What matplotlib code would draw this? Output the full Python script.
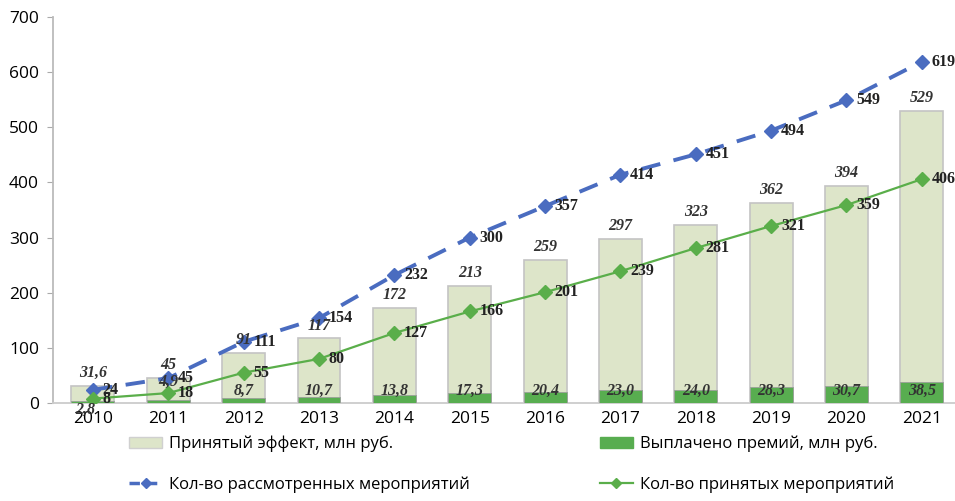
import numpy as np
import matplotlib.pyplot as plt
from matplotlib.lines import Line2D
from matplotlib.patches import Patch

years = [2010, 2011, 2012, 2013, 2014, 2015, 2016, 2017, 2018, 2019, 2020, 2021]
effect = [31.6, 45, 91, 117, 172, 213, 259, 297, 323, 362, 394, 529]
bonus = [2.8, 4.9, 8.7, 10.7, 13.8, 17.3, 20.4, 23.0, 24.0, 28.3, 30.7, 38.5]
reviewed = [24, 45, 111, 154, 232, 300, 357, 414, 451, 494, 549, 619]
accepted = [8, 18, 55, 80, 127, 166, 201, 239, 281, 321, 359, 406]

names = ["Принятый эффект, млн руб.", "Выплачено премий, млн руб.",
         "Кол-во рассмотренных мероприятий", "Кол-во принятых мероприятий"]

def fmt(v):
    if float(v).is_integer() and v >= 40:
        return str(int(v))
    return ("%.1f" % v).replace(".", ",")

plt.rcParams['font.family'] = ['Open Sans', 'DejaVu Sans']

fig = plt.figure(figsize=(9.55, 5.01), dpi=100)
ax = fig.add_axes([0.0555, 0.1956, 0.9445, 0.7704])

x = np.array(years)
light = '#dde5c9'
dark = '#58ad50'
blue = '#4a6cc0'
green = '#5aae4a'

ax.bar(x, effect, width=0.57, color=light, edgecolor='#c4c4c4', linewidth=1.2, zorder=2)
ax.bar(x, bonus, width=0.57, color=dark, edgecolor='#9aa09a', linewidth=0.6, zorder=3)

ax.plot(x, reviewed, color=blue, lw=2.8, ls=(0, (5, 3.5)), marker='D', ms=7,
        mfc=blue, mec=blue, zorder=5)
ax.plot(x, accepted, color=green, lw=1.6, marker='D', ms=7,
        mfc=green, mec=green, zorder=5)

serif = 'Liberation Serif'
for xi, v in zip(x, effect):
    ax.text(xi, v + 9, fmt(v), ha='center', va='bottom', fontsize=11.5,
            family=serif, weight='bold', style='italic', color='#333333', zorder=6)

for i, (xi, v) in enumerate(zip(x, bonus)):
    yy = 22
    if i == 0:
        yy = -12
    elif i == 1:
        yy = 38
    ax.text(xi - (0.1 if i == 0 else 0), yy, fmt(v), ha='center', va='center', fontsize=11.5,
            family=serif, weight='bold', style='italic', color='#333333', zorder=6,
            clip_on=False)

for xi, v in zip(x, reviewed):
    ax.text(xi + 0.13, v, str(v), ha='left', va='center', fontsize=11.5,
            family=serif, weight='bold', color='#222222', zorder=6, clip_on=False)
for xi, v in zip(x, accepted):
    ax.text(xi + 0.13, v, str(v), ha='left', va='center', fontsize=11.5,
            family=serif, weight='bold', color='#222222', zorder=6, clip_on=False)

ax.set_xlim(2009.47, 2021.44)
ax.set_ylim(0, 700)
ax.set_yticks(range(0, 701, 100))
ax.set_xticks(x)
ax.set_xticklabels([str(y) for y in years])
ax.tick_params(axis='y', length=4, color='#aaaaaa', labelsize=12.5, pad=6)
ax.tick_params(axis='x', length=0, labelsize=12.5, pad=6)
for s in ['top', 'right']:
    ax.spines[s].set_visible(False)
ax.spines['left'].set_color('#bbbbbb')
ax.spines['left'].set_linewidth(1.3)
ax.spines['bottom'].set_color('#cccccc')
ax.spines['bottom'].set_linewidth(1.3)

handles = [
    Patch(facecolor=light, edgecolor='#d0d0d0', label=names[0]),
    Line2D([], [], color=blue, lw=2.5, ls=(0, (3, 2)), marker='D', ms=5, label=names[2]),
    Patch(facecolor=dark, edgecolor=dark, label=names[1]),
    Line2D([], [], color=green, lw=1.6, marker='D', ms=5, label=names[3]),
]
fig.legend(handles=handles, loc='upper left', bbox_to_anchor=(0.135, 0.13), ncol=2,
           frameon=False, fontsize=12, columnspacing=7.8, handlelength=2.0,
           handletextpad=0.4, labelspacing=1.45, borderaxespad=0, borderpad=0)

fig.savefig('out.png', dpi=100)
